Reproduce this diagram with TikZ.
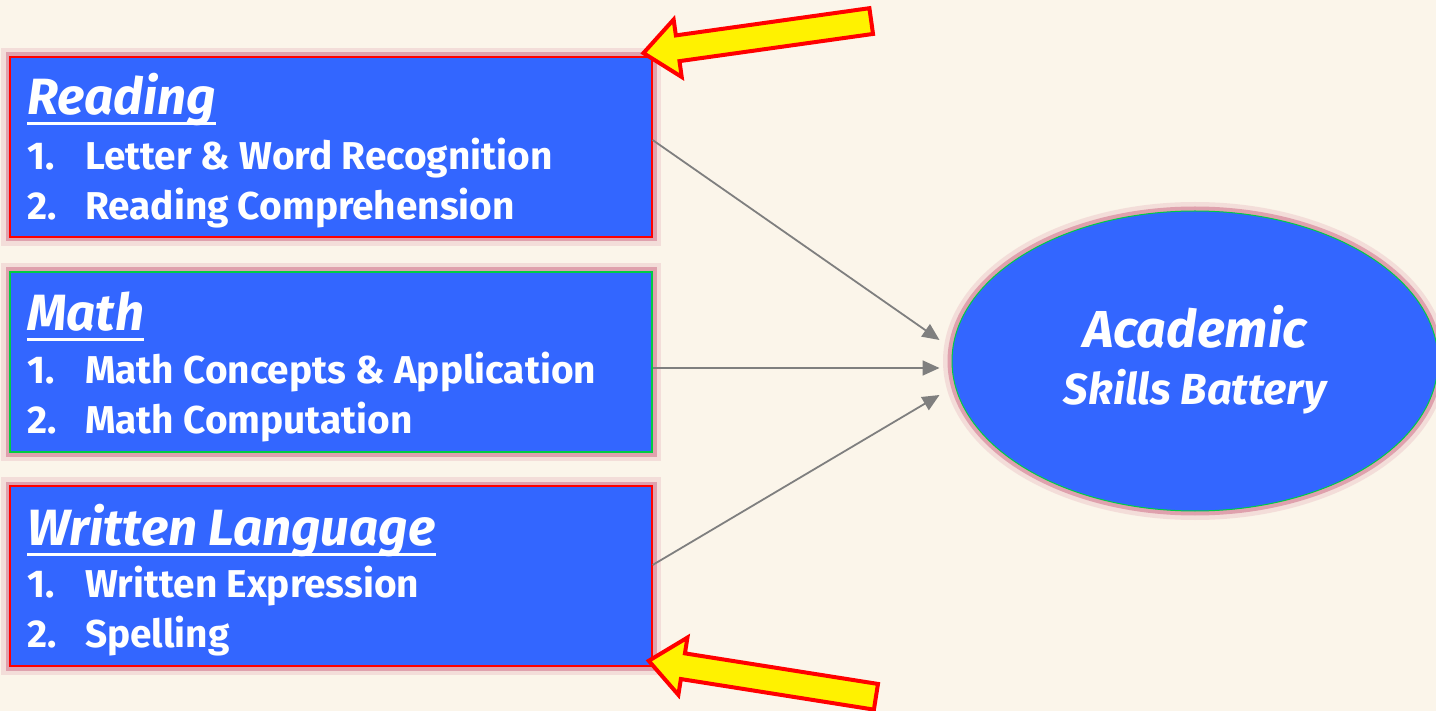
\documentclass[tikz,border=0pt]{standalone}
\usepackage{fontspec}
\setmainfont{Fira Sans}
\usetikzlibrary{arrows.meta, shapes.geometric, shapes.arrows, calc}

\definecolor{paper}{HTML}{FBF5EA}
\definecolor{boxblue}{HTML}{3366FF}
\definecolor{glowpink}{HTML}{C85A78}
\definecolor{edgegreen}{HTML}{00CC44}
\definecolor{linkgray}{HTML}{7F7F7F}

\tikzset{
    glow/.style={
        preaction={draw=glowpink, line width=18pt, opacity=0.15},
        preaction={draw=glowpink, line width=9pt, opacity=0.45}},
    area/.style={rectangle, fill=boxblue, line width=1.2pt, inner sep=0,
        minimum width=642, minimum height=180, glow},
    head/.style={anchor=base west, inner sep=0, text=white,
        font=\fontsize{51}{55}\selectfont\bfseries\itshape},
    item/.style={anchor=base west, inner sep=0, text=white,
        font=\fontsize{38.8}{44}\selectfont\bfseries},
    link/.style={draw=linkgray, line width=1.8pt,
        -{Triangle[length=17pt, width=15pt]}},
    pointer/.style={single arrow, fill=yellow, draw=red, line width=4pt,
        minimum height=230, inner xsep=0, inner ysep=11pt,
        single arrow head extend=16pt, single arrow tip angle=80}
}
\newcommand{\num}[1]{\makebox[58pt][l]{#1}}

\begin{document}
\begin{tikzpicture}[x=1pt, y=-1pt]
    \fill[paper] (0,0) rectangle (1436,711);
    \useasboundingbox (0,0) rectangle (1436,711);

    % the three areas
    \node[area, draw=red] (read) at (331,147) {};
    \node[area, draw=edgegreen] (math) at (331,362) {};
    \node[area, draw=red] (writ) at (331,576) {};

    \node[head] (readh) at (27,115) {Reading};
    \node[item] (read1) at (27,170) {\num{1.}Letter \& Word Recognition};
    \node[item] (read2) at (27,220) {\num{2.}Reading Comprehension};

    \node[head] (mathh) at (27,331) {Math};
    \node[item] (math1) at (27,384) {\num{1.}Math Concepts \& Application};
    \node[item] (math2) at (27,433) {\num{2.}Math Computation};

    \node[head] (writh) at (27,545) {Written Language};
    \node[item] (writ1) at (27,597) {\num{1.}Written Expression};
    \node[item] (writ2) at (27,647) {\num{2.}Spelling};

    \foreach \h in {readh, mathh, writh}
        \draw[white, line width=3pt] ($(\h.base west)+(0,9)$) -- ($(\h.base east)+(0,9)$);

    % composite
    \node[ellipse, fill=boxblue, draw=edgegreen, line width=1pt,
          minimum width=486, minimum height=300, glow] (asb) at (1195,361) {};
    \node[text=white, font=\fontsize{52}{56}\selectfont\bfseries\itshape,
          anchor=base, inner sep=0] (asb1) at (1195,348) {Academic};
    \node[text=white, font=\fontsize{43.5}{48}\selectfont\bfseries\itshape,
          anchor=base, inner sep=0] (asb2) at (1195,405) {Skills Battery};

    \draw[link] ([yshift=7]read.east) -- ([shift={(-12,-21)}]asb.west);
    \draw[link] ([yshift=-6]math.east) -- ([shift={(-12,7)}]asb.west);
    \draw[link] ([yshift=11]writ.east) -- ([shift={(-12,34)}]asb.west);

    % yellow pointers
    \node[pointer, rotate=188] (ptop) at (765,36) {};
    \node[pointer, rotate=171] (pbot) at (770,680) {};
\end{tikzpicture}
\end{document}
